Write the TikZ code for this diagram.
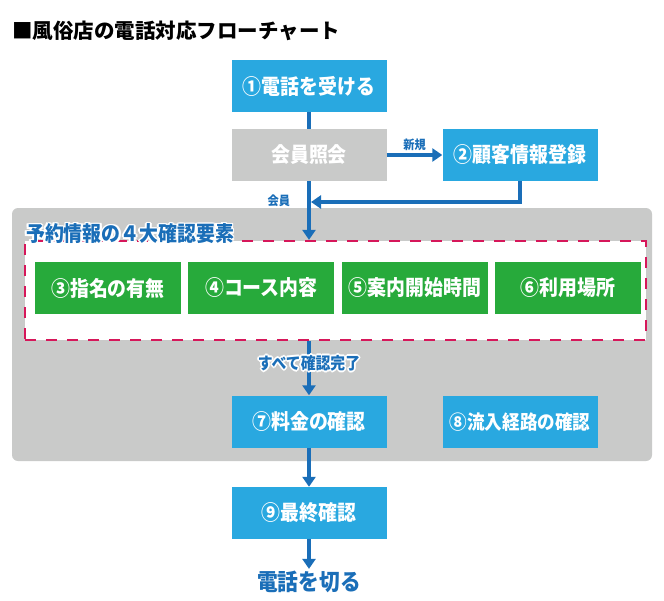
\documentclass[tikz,border=0pt]{standalone}
\usepackage{fontspec}
\setmainfont{Noto Sans CJK JP}
\newfontfamily\jpcond{Noto Sans CJK JP}[FakeStretch=0.9]
\usetikzlibrary{positioning,arrows.meta}

\definecolor{boxblue}{HTML}{29A8E0}
\definecolor{lineblue}{HTML}{1A6EB8}
\definecolor{panelgray}{HTML}{C9CAC9}
\definecolor{itemgreen}{HTML}{27AA3B}
\definecolor{dashred}{HTML}{D6175A}

% white outline behind a text
\newcommand{\halo}[1]{%
  \makebox[0pt][l]{\color{white}%
    \foreach \ha in {0,45,...,315}{%
      \makebox[0pt][l]{\hspace*{\fpeval{1.7*cosd(\ha)}pt}\raisebox{\fpeval{1.7*sind(\ha)}pt}{#1}}}}%
  #1}

\tikzset{
  stepbox/.style={fill=boxblue, text=white, minimum width=155pt, minimum height=52pt,
    inner sep=0pt, font=\jpcond\bfseries\fontsize{21}{21}\selectfont},
  querybox/.style={stepbox, fill=panelgray},
  itembox/.style={stepbox, fill=itemgreen, minimum width=146pt},
  flow/.style={lineblue, line width=4pt},
  flowarrow/.style={flow, -{Triangle[width=13pt,length=10pt]}},
  tag/.style={text=lineblue, inner sep=2pt, font=\jpcond\bfseries\fontsize{12.5}{12.5}\selectfont},
}

\begin{document}
\begin{tikzpicture}[x=1pt, y=-1pt]
        \useasboundingbox (0,0) rectangle (664,600);
        \node[anchor=west, inner sep=0pt, font=\bfseries\fontsize{20.5}{20.5}\selectfont] (title) at (12,31) {■風俗店の電話対応フローチャート};

        % backgrounds
        \node[fill=panelgray, rounded corners=6pt, minimum width=640pt, minimum height=253pt, inner sep=0pt] (panel) at (332,334.5) {};
        \node[draw=dashred, fill=white, line width=2.3pt, dash pattern=on 11pt off 10pt, minimum width=621pt, minimum height=99pt, inner sep=0pt] (keys) at (335.5,290.5) {};
        \node[anchor=west, inner sep=0pt, text=lineblue, font=\jpcond\bfseries\fontsize{21}{21}\selectfont] (keystitle) at (26,234) {\halo{予約情報の４大確認要素}};

        % steps
        \node[stepbox] (call) at (309,86) {①電話を受ける};
        \node[querybox] (member) at (309,155) {会員照会};
        \node[stepbox] (newcust) at (520,155) {②顧客情報登録};
        \node[itembox] (nominate) at (108,288) {③指名の有無};
        \node[itembox, right=7pt of nominate] (course) {④コース内容};
        \node[itembox, right=7pt of course] (start) {⑤案内開始時間};
        \node[itembox, right=7pt of start] (place) {⑥利用場所};
        \node[stepbox] (fee) at (309,421.5) {⑦料金の確認};
        \node[stepbox, font=\jpcond\bfseries\fontsize{19.5}{19.5}\selectfont] (route) at (520,422) {⑧流入経路の確認};
        \node[stepbox] (final) at (309,513) {⑨最終確認};
        \node[inner sep=2pt, text=lineblue, font=\jpcond\bfseries\fontsize{23}{23}\selectfont] (hangup) at (309,582) {電話を切る};

        % connectors
        \coordinate (merge) at (311,202);
        \draw[flow] (call) -- (member);
        \draw[flowarrow] (member) -- node[tag, above]{新規} (newcust);
        \draw[flowarrow] (newcust) |- (merge);
        \draw[flowarrow] (member) -- node[tag, pos=0.33, left=15pt]{会員} (member |- keys.north);
        \draw[flowarrow] (keys.south -| fee) -- node[pos=0.41, inner sep=0pt, text=lineblue, font=\jpcond\bfseries\fontsize{16.5}{16.5}\selectfont]{\halo{すべて確認完了}} (fee);
        \draw[flowarrow] (fee) -- (final);
        \draw[flowarrow] (final) -- (hangup);
    \end{tikzpicture}
\end{document}
